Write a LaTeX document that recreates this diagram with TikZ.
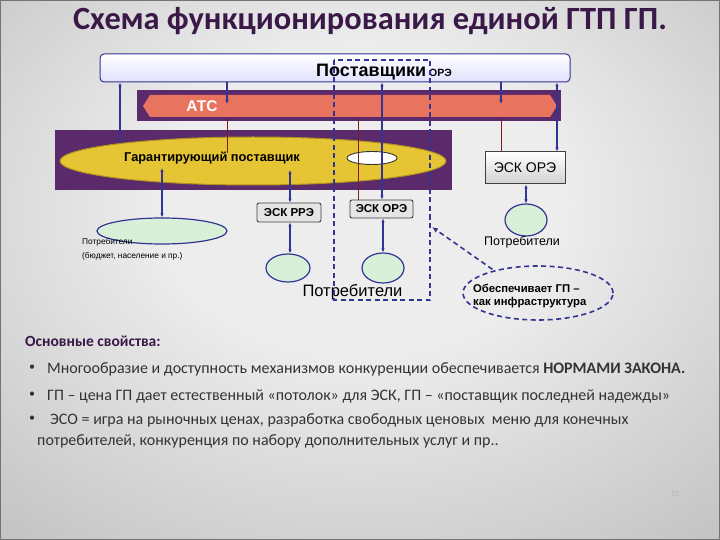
\documentclass[tikz,border=0pt]{standalone}
\usepackage{fontspec}
\setmainfont{Carlito}
\newfontfamily\arialf{Liberation Sans}
\usetikzlibrary{arrows.meta,shapes.geometric}
\definecolor{bglight}{HTML}{EDEDED}
\definecolor{bgdark}{HTML}{888888}
\definecolor{titlec}{HTML}{3A1848}
\definecolor{purp}{HTML}{5B2A6B}
\definecolor{orng}{HTML}{E8735E}
\definecolor{yell}{HTML}{E6C535}
\definecolor{yelld}{HTML}{B0921E}
\definecolor{lnblue}{HTML}{343494}
\definecolor{lnred}{HTML}{7A1E1E}
\definecolor{grn}{HTML}{D8F0D8}
\definecolor{txtc}{HTML}{333333}
\pgfdeclareradialshading{bgshade}{\pgfpoint{0bp}{8bp}}{color(0bp)=(bglight); color(14bp)=(bglight); color(72bp)=(bgdark)}
\tikzset{
  x=1pt, y=-1pt,
  link/.style={draw=lnblue, line width=1.2pt, {Latex[length=4pt,width=3.5pt]}-{Latex[length=4pt,width=3.5pt]}},
  linkdown/.style={draw=lnblue, line width=1.2pt, -{Latex[length=4pt,width=3.5pt]}},
  redlink/.style={draw=lnred, line width=1pt},
  consumer/.style={ellipse, draw=lnblue, line width=1.2pt, fill=grn, inner sep=0pt},
  smallbox/.style={draw=black!75, line width=0.9pt, rounded corners=2pt, fill=black!10, inner sep=0pt, font=\arialf\bfseries\fontsize{11.5}{12}\selectfont},
  dashline/.style={draw=lnblue, line width=1.6pt, dash pattern=on 5pt off 3.5pt},
  lbl/.style={inner sep=0pt, font=\arialf},
  bodytxt/.style={inner sep=0pt, anchor=base west, text=txtc, font=\fontsize{16}{18}\selectfont},
  bullet/.style={inner sep=0pt, text=txtc, font=\fontsize{12}{12}\selectfont},
}
\begin{document}
\begin{tikzpicture}
\useasboundingbox (0,0) rectangle (720,540);
\shade[shading=bgshade] (0,0) rectangle (720,540);
\draw[black!55, line width=1pt] (0.5,0.5) rectangle (719.5,539.5);

% title
\node[inner sep=0pt, anchor=base, text=titlec, font=\bfseries\fontsize{32.4}{34}\selectfont] (title) at (370,30) {Схема функционирования единой ГТП ГП.};

% suppliers box
\node[draw=lnblue, line width=1pt, rounded corners=4pt, top color=white, bottom color=blue!12!white, minimum width=470pt, minimum height=28pt, inner sep=0pt] (sup) at (335,68) {};
\node[inner sep=0pt, anchor=base west, font=\arialf\bfseries] (suptxt) at (316,77) {{\fontsize{18}{19}\selectfont Поставщики}\hspace{3pt}{\fontsize{10.5}{11}\selectfont ОРЭ}};

% ATC bar
\node[fill=purp, minimum width=424pt, minimum height=31pt, inner sep=0pt] (atcbar) at (349,106) {};
\fill[orng] (143,106) -- (150,95) -- (550,95) -- (557,106) -- (550,117) -- (150,117) -- cycle;
\node[inner sep=0pt, text=white, font=\arialf\bfseries\fontsize{15.5}{16}\selectfont] (atc) at (202,106) {АТС};

% guaranteeing supplier
\node[fill=purp, minimum width=397pt, minimum height=60pt, inner sep=0pt] (gpbg) at (253.5,160) {};
\node[ellipse, fill=yell, draw=yelld, line width=1pt, minimum width=386pt, minimum height=48pt, inner sep=0pt] (gp) at (253,161) {};
\node[lbl, font=\arialf\bfseries\fontsize{12.8}{13}\selectfont] (gptxt) at (212,158) {Гарантирующий поставщик};
\node[ellipse, fill=white, draw=black!80, line width=0.9pt, minimum width=50pt, minimum height=13pt, inner sep=0pt] (wh) at (372,158) {};

% ESK boxes
\node[draw=black!75, line width=1pt, top color=white, bottom color=black!18, minimum width=80pt, minimum height=32pt, inner sep=0pt, font=\arialf\fontsize{14}{15}\selectfont] (eskr) at (525,168) {ЭСК ОРЭ};
\node[smallbox, minimum width=64pt, minimum height=19pt] (rre) at (289,212.5) {ЭСК РРЭ};
\node[smallbox, minimum width=63pt, minimum height=18pt] (ore) at (381.5,209) {ЭСК ОРЭ};

% consumers
\node[consumer, minimum width=130pt, minimum height=26pt] (c1) at (162,231) {};
\node[consumer, minimum width=44pt, minimum height=28pt] (c2) at (288,268) {};
\node[consumer, minimum width=42pt, minimum height=30pt] (c3) at (383,268) {};
\node[consumer, minimum width=42pt, minimum height=32pt] (c4) at (526,220) {};

\node[lbl, anchor=north west, align=left, font=\arialf\fontsize{8.3}{13.5}\selectfont] (c1txt) at (82,238.5) {Потребители\\(бюджет, население и пр.)};
\node[lbl, font=\arialf\fontsize{16.5}{17}\selectfont] (c23txt) at (352.5,292) {Потребители};
\node[lbl, font=\arialf\fontsize{12.5}{13}\selectfont] (c4txt) at (522,242) {Потребители};

% dashed frame and ellipse
\coordinate (dtl) at (334,60);
\coordinate (dbr) at (430,300);
\draw[dashline] (dtl) rectangle (dbr);
\node[ellipse, dashline, minimum width=150pt, minimum height=54pt, inner sep=0pt] (infra) at (538,293) {};
\node[lbl, anchor=west, align=left, font=\arialf\bfseries\fontsize{11.3}{13.5}\selectfont] (infratxt) at (473,296) {Обеспечивает ГП –\\как инфраструктура};
\coordinate (dtip) at (432,227);
\draw[dashline, -{Latex[length=6pt,width=5pt]}] (infra.north west) ++(8,-4) -- (dtip);

% connectors
\coordinate (p1) at (120,144);
\draw[link] (sup.south -| p1) -- (p1);
\coordinate (p2) at (227,104);
\draw[linkdown] (sup.south -| p2) -- (p2);
\coordinate (p2b) at (227,153);
\draw[redlink] (atcbar.south -| p2b) ++(0,-4) -- (p2b);
\coordinate (p3) at (358,117);
\draw[redlink] (p3) -- (ore.north -| p3);
\coordinate (p4) at (382,0);
\draw[link] (sup.south -| p4) -- (ore.north -| p4);
\coordinate (p5) at (501,104);
\draw[linkdown] (sup.south -| p5) -- (p5);
\coordinate (p5b) at (501,117);
\draw[redlink] (p5b) -- (eskr.north -| p5b);
\coordinate (p6) at (557,0);
\draw[link] (sup.south -| p6) -- (eskr.north -| p6);
\coordinate (p7) at (162,168);
\draw[link] (p7) -- (c1.north -| p7);
\coordinate (p8) at (290,170);
\draw[link] (p8) -- (rre.north -| p8);
\draw[link] (rre.south -| p8) -- (c2.north -| p8);
\draw[link] (ore.south -| c3) -- (c3.north);
\draw[link] (eskr.south -| c4) -- (c4.north);

% bottom text
\node[inner sep=0pt, anchor=base west, text=titlec, font=\bfseries\fontsize{15.5}{18}\selectfont] (props) at (25,346) {Основные свойства:};
\node[bullet] (b1) at (32,368) {•};
\node[bodytxt] (t1) at (47,373) {Многообразие и доступность механизмов конкуренции обеспечивается \textbf{НОРМАМИ ЗАКОНА.}};
\node[bullet] (b2) at (32,395) {•};
\node[bodytxt] (t2) at (47,400) {ГП – цена ГП дает естественный «потолок» для ЭСК, ГП – «поставщик последней надежды»};
\node[bullet] (b3) at (32,419) {•};
\node[bodytxt] (t3) at (50,424) {ЭСО = игра на рыночных ценах, разработка свободных ценовых \ меню для конечных};
\node[bodytxt] (t4) at (37,445) {потребителей, конкуренция по набору дополнительных услуг и пр..};
\node[inner sep=0pt, text=black!30, font=\fontsize{8}{9}\selectfont] (pg) at (675,494) {15};
\end{tikzpicture}
\end{document}
